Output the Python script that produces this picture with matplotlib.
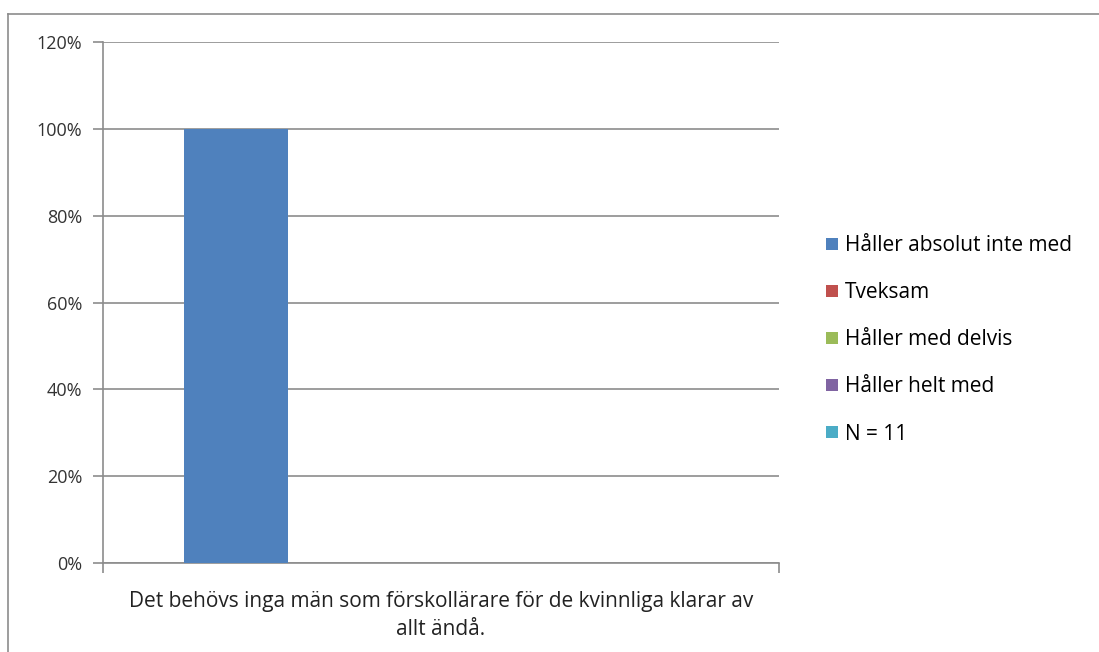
import matplotlib.pyplot as plt
import numpy as np
from matplotlib.lines import Line2D

# data
category = "Det behövs inga män som förskollärare för de kvinnliga klarar av\nallt ändå."
series = ["Håller absolut inte med", "Tveksam", "Håller med delvis", "Håller helt med", "N = 11"]
values = [1.0, 0.0, 0.0, 0.0, 0.0]
colors = ["#4F81BD", "#C0504D", "#9BBB59", "#8064A2", "#4BACC6"]
yticks = [0, 0.2, 0.4, 0.6, 0.8, 1.0, 1.2]

plt.rcParams['font.family'] = ['Open Sans', 'DejaVu Sans']

fig = plt.figure(figsize=(10.99, 6.52), dpi=100)
ax = fig.add_axes([103/1099, 1 - 563/652, 676/1099, 521/652])

# clustered columns, gap width 150%
w = 1 / 6.5
for i, (name, v, c) in enumerate(zip(series, values, colors)):
    x = -0.5 + 0.75 * w + (i + 0.5) * w + 0.004
    ax.bar(x, v, width=w, color=c, label=name, zorder=3)

ax.set_xlim(-0.5, 0.5)
ax.set_ylim(0, 1.2)
ax.set_yticks(yticks)
ax.set_yticklabels([f"{int(round(t*100))}%" for t in yticks], fontsize=13, color="#333333")
ax.yaxis.grid(True, color="#8c8c8c", linewidth=1.2, zorder=0)
ax.set_xticks([-0.5, 0.5])
ax.set_xticklabels(["", ""])
ax.tick_params(axis='y', length=7, color="#8c8c8c", width=1.2, pad=8)
ax.tick_params(axis='x', length=7, color="#8c8c8c", width=1.2)
for s in ["top", "right"]:
    ax.spines[s].set_visible(False)
ax.spines["left"].set_color("#8c8c8c")
ax.spines["bottom"].set_color("#8c8c8c")
ax.spines["left"].set_linewidth(1.2)
ax.spines["bottom"].set_linewidth(1.2)

ax.text(0.5, -0.054, category, transform=ax.transAxes, ha="center", va="top",
        fontsize=15, color="#222222", linespacing=1.4)

leg = fig.legend(loc="upper left", bbox_to_anchor=(818/1099, 1 - 227/652), frameon=False,
                 fontsize=15, handlelength=0.55, handleheight=0.55, handletextpad=0.35,
                 labelspacing=1.25, borderaxespad=0)

# chart frame (cropped at right/bottom)
fig.add_artist(Line2D([8/1099, 1], [1 - 14/652, 1 - 14/652], color="#8c8c8c", linewidth=1.2))
fig.add_artist(Line2D([8/1099, 8/1099], [0, 1 - 14/652], color="#8c8c8c", linewidth=1.2))

plt.savefig("out.png", dpi=100)
